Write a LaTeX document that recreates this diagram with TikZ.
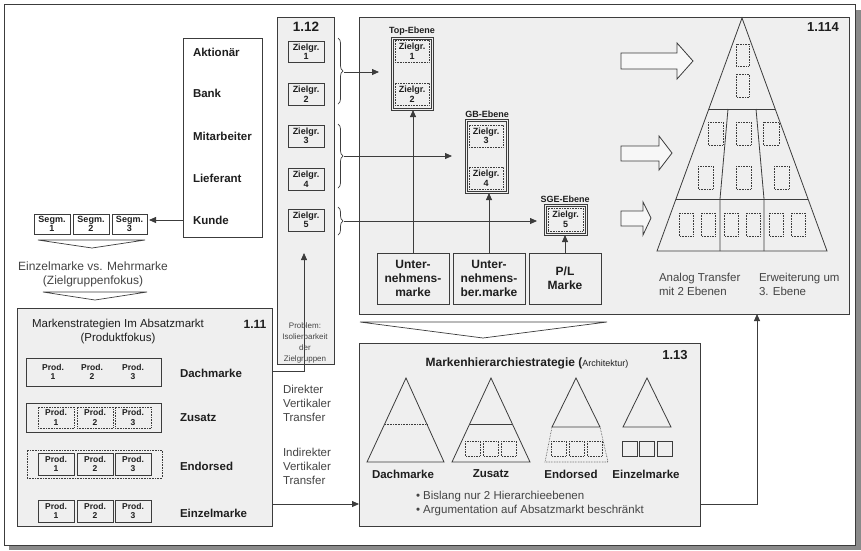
\documentclass[tikz,border=0pt]{standalone}
\usepackage{fontspec}
\setmainfont{Liberation Sans}
\usetikzlibrary{arrows.meta,decorations.pathreplacing,calc}
\definecolor{lc}{HTML}{3C3C3C}
\definecolor{bg}{HTML}{EFEFEF}
\definecolor{tc}{HTML}{1E1E1E}
\definecolor{sh}{HTML}{8A8A8A}
\definecolor{gt}{HTML}{444444}
\tikzset{
  every node/.style={inner sep=0pt, outer sep=0pt, text=tc},
  panel/.style={draw=lc, fill=bg, line width=0.8pt, anchor=north west},
  wbox/.style={draw=lc, fill=white, line width=0.8pt, anchor=north west},
  sbox/.style={draw=lc, fill=bg, line width=0.7pt, anchor=north west, align=center, font=\fontsize{9}{9.5}\selectfont\bfseries},
  dbox/.style={draw=lc, densely dotted, fill=bg, line width=0.6pt, anchor=north west, align=center, font=\fontsize{9}{9.5}\selectfont\bfseries},
  pbox/.style={draw=lc, line width=0.7pt, anchor=north west, align=center, font=\fontsize{8.5}{9.5}\selectfont\bfseries},
  pdbox/.style={draw=lc, densely dotted, line width=0.6pt, anchor=north west, align=center, font=\fontsize{8.5}{9.5}\selectfont\bfseries},
  lbl/.style={font=\fontsize{11.5}{14}\selectfont\bfseries},
  reg/.style={font=\fontsize{11.5}{14}\selectfont, align=left},
  small/.style={font=\fontsize{9}{10}\selectfont\bfseries},
  num/.style={font=\fontsize{13}{15}\selectfont\bfseries},
  big/.style={draw=lc, fill=bg, line width=0.8pt, anchor=north west, align=center, font=\fontsize{12}{14}\selectfont\bfseries},
  arr/.style={draw=lc, line width=0.8pt, -{Triangle[length=7pt,width=6pt]}},
  ln/.style={draw=lc, line width=0.8pt},
  brc/.style={draw=lc, line width=0.7pt, decorate, decoration={brace, amplitude=5pt}},
  hollow/.style={draw=lc, fill=white!50!bg, line width=0.8pt, line join=miter},
  dots/.style={draw=lc, densely dotted, line width=0.6pt},
  lvl/.style={draw=lc, fill=bg, line width=0.8pt, anchor=north west}
}
\begin{document}
\begin{tikzpicture}[x=1pt,y=-1pt]
\useasboundingbox (0,0) rectangle (861,550);
\fill[sh] (9,10) rectangle (861,550);
\draw[lc, fill=white, line width=0.8pt] (4,4) rectangle (855,545);

% helper coordinates
\coordinate (y253) at (304,253);
\coordinate (y371) at (0,371);
\coordinate (y504) at (0,504);
\coordinate (x757) at (757,0);

% ---------- stakeholders ----------
\node[wbox, minimum width=79pt, minimum height=199pt] (stake) at (183,38) {};
\node[lbl, anchor=west] (s1) at (193,52) {Aktionär};
\node[lbl, anchor=west] (s2) at (193,93) {Bank};
\node[lbl, anchor=west] (s3) at (193,136) {Mitarbeiter};
\node[lbl, anchor=west] (s4) at (193,178) {Lieferant};
\node[lbl, anchor=west] (s5) at (193,220) {Kunde};

% segments
\node[sbox, fill=white, minimum width=36pt, minimum height=20pt] (g1) at (34,214) {Segm.\\1};
\node[sbox, fill=white, minimum width=36pt, minimum height=20pt] (g2) at (73,214) {Segm.\\2};
\node[sbox, fill=white, minimum width=35pt, minimum height=20pt] (g3) at (112,214) {Segm.\\3};
\draw[arr, shorten >=2pt] (stake.west |- s5) -- (g3.east |- s5);

\draw[ln, line width=0.7pt] (38,240) -- (145,240) -- (92,248) -- cycle;
\node[font=\fontsize{12}{14}\selectfont, text=gt, align=center] (ev) at (93,274) {Einzelmarke vs. Mehrmarke\\(Zielgruppenfokus)};
\draw[ln, line width=0.7pt] (43,292) -- (147,292) -- (95,300) -- cycle;

% ---------- 1.11 ----------
\node[panel, minimum width=255pt, minimum height=218pt] (b111) at (17,308) {};
\node[font=\fontsize{11.5}{14}\selectfont, align=center] (t111) at (118,332) {Markenstrategien Im Absatzmarkt\\(Produktfokus)};
\node[font=\fontsize{12}{14}\selectfont\bfseries] (n111) at (255,324) {1.11};

\node[pbox, minimum width=135pt, minimum height=28pt] (rd) at (26,358) {};
\node[font=\fontsize{8.5}{9.5}\selectfont\bfseries, align=center] (d1) at (53,372) {Prod.\\1};
\node[font=\fontsize{8.5}{9.5}\selectfont\bfseries, align=center] (d2) at (92,372) {Prod.\\2};
\node[font=\fontsize{8.5}{9.5}\selectfont\bfseries, align=center] (d3) at (133,372) {Prod.\\3};
\node[lbl, anchor=west] (ld) at (180,373) {Dachmarke};

\node[pbox, minimum width=135pt, minimum height=29pt] (rz) at (26,403) {};
\node[pdbox, minimum width=36pt, minimum height=21pt] (z1p) at (38,407) {Prod.\\1};
\node[pdbox, minimum width=36pt, minimum height=21pt] (z2p) at (77,407) {Prod.\\2};
\node[pdbox, minimum width=36pt, minimum height=21pt] (z3p) at (115,407) {Prod.\\3};
\node[lbl, anchor=west] (lz) at (180,418) {Zusatz};

\node[pdbox, minimum width=135pt, minimum height=28pt] (re) at (27,450) {};
\node[pbox, minimum width=36pt, minimum height=22pt] (e1p) at (38,453) {Prod.\\1};
\node[pbox, minimum width=36pt, minimum height=22pt] (e2p) at (77,453) {Prod.\\2};
\node[pbox, minimum width=36pt, minimum height=22pt] (e3p) at (115,453) {Prod.\\3};
\node[lbl, anchor=west] (le) at (180,466) {Endorsed};

\node[pbox, minimum width=36pt, minimum height=22pt] (i1p) at (38,500) {Prod.\\1};
\node[pbox, minimum width=36pt, minimum height=22pt] (i2p) at (77,500) {Prod.\\2};
\node[pbox, minimum width=36pt, minimum height=22pt] (i3p) at (115,500) {Prod.\\3};
\node[lbl, anchor=west] (li) at (180,513) {Einzelmarke};

\node[reg, anchor=west, text=gt] (dvt) at (283,403) {Direkter\\Vertikaler\\Transfer};
\node[reg, anchor=west, text=gt] (ivt) at (283,466) {Indirekter\\Vertikaler\\Transfer};

% ---------- 1.12 ----------
\node[panel, minimum width=57pt, minimum height=347pt] (b112) at (277,17) {};
\node[font=\fontsize{13.5}{15}\selectfont\bfseries] (n112) at (306,27) {1.12};
\node[sbox, minimum width=36pt, minimum height=21pt] (z1) at (288,41) {Zielgr.\\1};
\node[sbox, minimum width=36pt, minimum height=22pt] (z2) at (288,83) {Zielgr.\\2};
\node[sbox, minimum width=36pt, minimum height=22pt] (z3) at (288,125) {Zielgr.\\3};
\node[sbox, minimum width=36pt, minimum height=22pt] (z4) at (288,168) {Zielgr.\\4};
\node[sbox, minimum width=36pt, minimum height=22pt] (z5) at (288,209) {Zielgr.\\5};

\draw[arr] (b111.east |- y371) -| (y253);
\node[font=\fontsize{8}{11}\selectfont, align=center, text=gt] (prob) at (305,343) {Problem:\\Isolierbarkeit\\der\\Zielgruppen};

% braces
\draw[brc] (338,38) -- (338,104);
\draw[brc] (338,124) -- (338,188);
\draw[brc] (338,207) -- (338,235);
\coordinate (t1) at (344,72);
\coordinate (t2) at (344,156);
\coordinate (t3) at (344,221);

% ---------- big top box ----------
\node[panel, minimum width=490pt, minimum height=297pt] (bigbox) at (359,17) {};
\node[num] (n114) at (823,27) {1.114};

\node[small] (lt) at (412,31) {Top-Ebene};
\node[lvl, minimum width=42pt, minimum height=73pt] (topbox) at (391,37) {};
\draw[lc, line width=0.5pt] ($(topbox.north west)+(2,2)$) rectangle ($(topbox.south east)+(-2,-2)$);
\node[dbox, minimum width=34pt, minimum height=22pt] (tz1) at (395,40) {Zielgr.\\1};
\node[dbox, minimum width=34pt, minimum height=22pt] (tz2) at (395,83) {Zielgr.\\2};

\node[small] (lg) at (487,114) {GB-Ebene};
\node[lvl, minimum width=43pt, minimum height=74pt] (gbbox) at (465,119) {};
\draw[lc, line width=0.5pt] ($(gbbox.north west)+(2,2)$) rectangle ($(gbbox.south east)+(-2,-2)$);
\node[dbox, minimum width=34pt, minimum height=22pt] (gz3) at (469,125) {Zielgr.\\3};
\node[dbox, minimum width=34pt, minimum height=22pt] (gz4) at (469,167) {Zielgr.\\4};

\node[small] (ls) at (565,199) {SGE-Ebene};
\node[lvl, minimum width=43pt, minimum height=31pt] (sgebox) at (544,204) {};
\draw[lc, line width=0.5pt] ($(sgebox.north west)+(2,2)$) rectangle ($(sgebox.south east)+(-2,-2)$);
\node[dbox, minimum width=35pt, minimum height=23pt] (sz5) at (548,208) {Zielgr.\\5};

\node[big, minimum width=72pt, minimum height=51pt] (um) at (377,253) {Unter-\\nehmens-\\marke};
\node[big, minimum width=72pt, minimum height=51pt] (ubm) at (453,253) {Unter-\\nehmens-\\ber.marke};
\node[big, minimum width=72pt, minimum height=51pt] (pl) at (529,253) {P/L\\Marke};

\draw[arr] (um.north) -- (um.north |- topbox.south);
\draw[arr] (ubm.north) -- (ubm.north |- gbbox.south);
\draw[arr] (pl.north) -- (pl.north |- sgebox.south);

\draw[arr, shorten >=12pt] (t1) -- (topbox.west |- t1);
\draw[arr, shorten >=13pt] (t2) -- (gbbox.west |- t2);
\draw[arr, shorten >=7pt] (t3) -- (sgebox.west |- t3);

% hollow arrows
\draw[hollow] (621,53) -- (677,53) -- (677,43) -- (693,61) -- (677,79) -- (677,69) -- (621,69) -- cycle;
\draw[hollow] (621,146) -- (659,146) -- (659,136) -- (672,153) -- (659,170) -- (659,161) -- (621,161) -- cycle;
\draw[hollow] (621,211) -- (643,211) -- (643,202) -- (651,218) -- (643,235) -- (643,226) -- (621,226) -- cycle;

% pyramid
\draw[ln] (742,18) -- (657,251) -- (827,251) -- cycle;
\draw[ln] (709,109) -- (775,109);
\draw[ln] (676,199) -- (808,199);
\draw[ln] (728,109) -- (720,199) -- (720,251);
\draw[ln] (756,109) -- (764,199) -- (764,251);
\draw[dots] (736,44) rectangle (749,66);
\draw[dots] (736,74) rectangle (749,97);
\foreach \a/\b in {708/723, 736/751, 763/779} \draw[dots] (\a,122) rectangle (\b,145);
\foreach \a/\b in {698/713, 736/751, 774/789} \draw[dots] (\a,166) rectangle (\b,189);
\foreach \a/\b in {679/693, 701/715, 724/738, 746/760, 769/783, 791/805} \draw[dots] (\a,213) rectangle (\b,236);

\node[reg, anchor=west, text=gt] (at) at (659,284) {Analog Transfer\\mit 2 Ebenen};
\node[reg, anchor=west, text=gt] (er) at (759,284) {Erweiterung um\\3. Ebene};

% chevron
\draw[ln, line width=0.7pt] (360,322) -- (607,322) -- (483,338) -- cycle;

% ---------- 1.13 ----------
\node[panel, minimum width=341pt, minimum height=183pt] (b113) at (359,343) {};
\node (t113) at (527,363) {\fontsize{12}{14}\selectfont\bfseries Markenhierarchiestrategie (\fontsize{9}{11}\selectfont\mdseries Architektur)};
\node[num] (n113) at (675,355) {1.13};

\draw[ln] (406,378) -- (367,462) -- (444,462) -- cycle;
\draw[dots] (385,424) -- (427,424);
\draw[ln] (491,378) -- (452,462) -- (530,462) -- cycle;
\draw[ln] (470,424) -- (512,424);
\foreach \a in {465,483,501} \draw[dots] (\a,441) rectangle ++(15,15);
\draw[ln] (576,378) -- (552,427) -- (600,427) -- cycle;
\draw[dots] (552,427) -- (545,462) -- (608,462) -- (600,427);
\foreach \a in {551,569,587} \draw[dots] (\a,441) rectangle ++(15,15);
\draw[ln] (647,378) -- (623,427) -- (671,427) -- cycle;
\foreach \a in {622,639,657} \draw[ln] (\a,441) rectangle ++(15,15);

\node[lbl] (a1) at (403,474) {Dachmarke};
\node[lbl] (a2) at (491,474) {Zusatz};
\node[lbl] (a3) at (571,474) {Endorsed};
\node[lbl] (a4) at (646,474) {Einzelmarke};

\node[reg, anchor=west, text=gt] (bul) at (416,504) {\textbullet\ Bislang nur 2 Hierarchieebenen\\\textbullet\ Argumentation auf Absatzmarkt beschränkt};

% connectors
\draw[arr] (b111.east |- y504) -- (b113.west |- y504);
\draw[arr] (b113.east |- y504) -| (bigbox.south -| x757);
\end{tikzpicture}
\end{document}
